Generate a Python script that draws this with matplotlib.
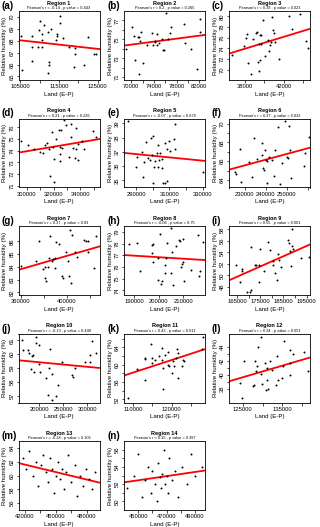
import numpy as np
import matplotlib.pyplot as plt

plt.rcParams['font.family'] = ['Liberation Sans', 'DejaVu Sans']

# ---- data (Land E-P vs relative humidity) ----
land_a = [105100, 105400, 108000, 107900, 107900, 109500, 109800, 110100, 110500, 110500, 110600, 111000,
          112100, 112500, 112500, 112100, 113000, 114200, 114500, 114500, 115200, 115200, 116000, 117500,
          119200, 119200, 119000, 121500, 122500, 124100, 124700]
rh_a = [68.42, 65.5, 68.37, 67.5, 66.3, 67.45, 68.9, 69.7, 68.55, 68.1, 67.5, 69.3,
        68.75, 66.25, 66.0, 65.25, 69.0, 68.1, 68.55, 68.4, 70.1, 69.5, 68.25, 67.5,
        67.4, 66.9, 65.8, 66.0, 68.3, 66.85, 66.9]

land_b = [69100, 70200, 70400, 70600, 71100, 71300, 71600, 71700, 72000, 71400, 72700, 73600, 73800, 74100,
          74200, 74500, 74600, 74800, 75400, 75500, 75800, 76100, 76500, 76800, 77000, 79300, 79400, 80500,
          81500, 82100, 82200]
rh_b = [74.0, 76.3, 75.4, 72.8, 75.2, 75.2, 74.8, 75.8, 72.5, 71.3, 74.4, 75.7, 74.4, 74.8,
        74.7, 75.6, 74.4, 74.6, 75.0, 73.9, 73.9, 77.8, 75.0, 75.7, 76.3, 76.6, 74.6, 74.0,
        71.9, 75.8, 77.2]

land_c = [36700, 37900, 38100, 38200, 38330, 38700, 38900, 39200, 39300, 39400, 39500, 39550, 39550, 39650,
          39500, 39700, 39900, 40100, 40400, 40500, 40600, 40700, 40800, 40900, 41000, 41100, 41500, 42500,
          42900, 43700, 44300, 44500]
rh_c = [72.7, 74.5, 75.9, 76.7, 71.3, 69.2, 75.7, 76.9, 77.1, 71.5, 69.8, 71.9, 76.6, 76.6,
        74.9, 74.8, 79.4, 72.5, 75.5, 73.5, 74.7, 75.2, 79.9, 77.5, 76.8, 75.2, 72.0, 80.0,
        77.6, 80.5, 75.3, 74.1]

land_d = [295500, 301200, 305000, 310000, 311750, 313250, 315000, 316250, 317000, 318750, 319250, 320000,
          320000, 321750, 323750, 324500, 325000, 325000, 325500, 326250, 328000, 329500, 331250, 333000,
          333000, 334500, 336250, 337000, 337000, 338000, 338250, 341250, 342500, 349500, 351800]
rh_d = [74.85, 74.45, 74.15, 73.85, 73.8, 74.45, 74.65, 74.15, 71.8, 75.6, 74.35, 73.3,
        71.3, 75.0, 75.75, 74.35, 73.7, 73.1, 75.75, 74.2, 76.6, 76.2, 73.5, 76.3,
        75.15, 74.25, 73.4, 75.9, 74.15, 74.55, 73.2, 74.8, 74.1, 75.65, 75.2]

land_e = [285400, 290000, 290800, 293400, 294400, 295000, 296000, 297400, 298400, 299000, 300000, 299400,
          300000, 301000, 301400, 302400, 303400, 303400, 304000, 304400, 305400, 305800, 306400, 307400,
          307400, 308400, 308800, 309800, 310400, 313000, 313400, 313400, 330000]
rh_e = [39.2, 35.94, 36.65, 37.0, 35.24, 36.3, 37.7, 36.6, 36.4, 37.99, 38.1, 36.8,
        34.85, 35.94, 36.35, 36.9, 35.94, 37.5, 36.4, 36.9, 35.88, 36.5, 34.85, 34.85,
        37.6, 34.95, 37.2, 37.8, 37.05, 37.9, 37.2, 38.95, 35.6]

land_f = [225400, 225900, 227800, 228500, 232200, 233300, 234600, 235700, 238000, 238300, 238500, 239100,
          239600, 240100, 240700, 240400, 241700, 242800, 243900, 244400, 246000, 246700, 247500, 249100,
          249900, 250400, 251200, 251500, 251800, 258100, 258600, 260600]
rh_f = [64.85, 64.6, 67.3, 63.78, 65.95, 64.35, 68.45, 66.2, 66.65, 67.9, 65.3, 65.1,
        67.15, 66.1, 66.05, 63.7, 66.4, 66.1, 64.4, 67.15, 69.65, 63.6, 65.8, 70.3,
        66.4, 66.3, 69.75, 67.15, 64.2, 65.5, 66.9, 68.55]

land_g = [360000, 373300, 376200, 379700, 380600, 380600, 381700, 383500, 384600, 385500, 387000, 388400,
          389900, 389900, 390700, 393600, 396200, 397100, 399400, 401400, 402300, 402900, 404300, 403800,
          407200, 408700, 415100, 416800, 418800, 418000, 424000, 425500]
rh_g = [84.07, 84.47, 86.05, 83.8, 83.99, 83.1, 82.93, 83.99, 84.67, 86.4, 84.5, 84.6,
        84.67, 83.88, 85.97, 85.8, 83.3, 83.15, 85.13, 84.5, 83.3, 86.9, 86.5, 82.75,
        85.2, 84.8, 86.1, 86.0, 86.05, 85.2, 83.9, 86.45]

land_h = [187800, 191200, 192300, 197100, 197500, 197100, 197500, 199500, 200500, 199500, 200900, 201400,
          202500, 202500, 202900, 203400, 204800, 204900, 205200, 205600, 206900, 208200, 208600, 209000,
          209300, 209700, 210000, 210300, 213000, 216100, 216500, 216800, 217900]
rh_h = [78.0, 78.07, 75.65, 77.9, 78.0, 77.2, 76.45, 76.73, 78.8, 74.85, 74.55, 74.8,
        76.2, 75.47, 76.8, 78.07, 79.3, 75.47, 77.3, 74.43, 77.75, 78.27, 78.2, 76.0,
        76.25, 76.4, 78.4, 74.8, 75.7, 78.77, 75.2, 75.64, 78.13]

land_i = [164400, 166100, 167100, 167100, 169200, 170600, 171000, 171200, 172700, 173100, 174300, 174300,
          174900, 176700, 178200, 179300, 180300, 180700, 181300, 182400, 182800, 183100, 183800, 186900,
          187400, 187700, 188500, 188800, 188800, 189100, 192800, 196200]
rh_i = [51.76, 48.8, 51.2, 50.8, 47.2, 47.2, 47.4, 55.0, 51.8, 51.9, 51.9, 48.9,
        54.6, 50.8, 55.8, 54.4, 51.9, 52.5, 50.4, 49.2, 53.8, 52.7, 51.4, 56.2,
        55.6, 54.3, 51.6, 58.1, 55.2, 54.6, 53.0, 53.2]

land_j = [165000, 167000, 177000, 178400, 182500, 185900, 187200, 188600, 192700, 194000, 199500, 198800,
          202200, 213100, 217900, 221300, 223300, 226000, 226700, 234800, 238200, 247100, 268900, 270200,
          273600, 296000, 304800, 306100, 309500, 317700]
rh_j = [61.0, 60.3, 60.3, 60.1, 58.9, 59.9, 59.95, 58.7, 60.8, 61.25, 60.7, 59.3,
        58.7, 58.25, 57.07, 59.0, 60.35, 56.7, 58.55, 57.0, 57.8, 59.45, 58.5, 58.35,
        59.0, 59.45, 59.45, 59.95, 60.95, 60.1]

land_k = [108700, 110900, 113000, 113000, 113000, 114600, 114900, 115000, 115600, 116700, 117400, 117500,
          117800, 117800, 118300, 119100, 119100, 119300, 120000, 120400, 120700, 121100, 121300, 121600,
          121700, 122800, 123000, 123200, 127800, 128300]
rh_k = [52.25, 59.1, 56.6, 61.3, 61.5, 64.8, 60.4, 61.5, 61.1, 62.1, 63.9, 61.1,
        59.2, 54.5, 62.2, 62.9, 60.0, 59.8, 58.1, 60.8, 59.8, 61.5, 63.7, 57.0,
        62.6, 59.6, 61.0, 60.8, 63.7, 66.4]

land_l = [124200, 124800, 125400, 127600, 127900, 128100, 128400, 128700, 128900, 129500, 129500, 129800,
          130600, 130800, 131100, 131100, 131300, 131900, 132400, 133300, 133600, 134000, 134800, 135200,
          135500, 136900, 136900, 136900, 137600, 140600, 141600]
rh_l = [38.8, 36.7, 41.9, 38.35, 38.5, 42.0, 40.5, 41.2, 43.9, 45.4, 40.1, 38.6,
        41.7, 37.8, 39.3, 41.0, 37.9, 41.9, 40.7, 38.5, 42.7, 39.3, 39.5, 41.2,
        44.8, 43.5, 41.6, 40.0, 42.9, 43.2, 40.5]

land_m = [418000, 421000, 424000, 428000, 431000, 433000, 436000, 438000, 440000, 442000, 444000, 446000,
          448000, 450000, 452000, 454000, 456000, 458000, 460000, 462000, 465000, 468000, 470000, 473000,
          476000, 479000, 482000, 485000, 488000]
rh_m = [62.5, 61.0, 63.5, 60.0, 62.0, 58.5, 61.5, 63.0, 60.5, 59.0, 62.5, 61.0,
        57.5, 60.0, 62.0, 59.5, 61.0, 58.0, 60.5, 63.0, 59.0, 61.5, 57.0, 60.0,
        58.5, 61.0, 59.5, 58.0, 60.5]

land_n = [442000, 447000, 450000, 453000, 455000, 457000, 459000, 460000, 462000, 463000, 464000, 465000,
          466000, 467000, 468000, 469000, 470000, 471000, 472000, 474000, 476000, 478000, 481000, 484000,
          487000, 490000, 495000]
rh_n = [51.5, 53.0, 55.5, 50.5, 52.5, 54.0, 51.0, 53.5, 52.0, 50.0, 54.5, 52.8,
        51.5, 53.2, 56.0, 52.0, 53.0, 51.0, 55.0, 52.5, 53.5, 50.5, 54.0, 52.0,
        55.5, 53.0, 54.0]

pearson_r = ['-0.14', '0.2', '0.39', '0.21', '-0.07', '0.37', '0.37', '-0.06', '0.55', '-0.13', '0.43',
             '0.34', '-0.28', '0.15']
p_values = ['0.443', '0.265', '0.023', '0.226', '0.679', '0.032', '0.03', '0.75', '0.001', '0.449', '0.011',
            '0.051', '0.105', '0.397']
panel_tags = ['(a)', '(b)', '(c)', '(d)', '(e)', '(f)', '(g)', '(h)', '(i)', '(j)', '(k)', '(l)', '(m)', '(n)']

lands = [land_a, land_b, land_c, land_d, land_e, land_f, land_g, land_h, land_i, land_j, land_k, land_l,
         land_m, land_n]
rhs = [rh_a, rh_b, rh_c, rh_d, rh_e, rh_f, rh_g, rh_h, rh_i, rh_j, rh_k, rh_l, rh_m, rh_n]

# axis limits, ticks and which tick labels are printed
xlims = [(104500, 125500), (68700, 83000), (36400, 44700), (293700, 354500), (282800, 331400),
         (222600, 260900), (358000, 428400), (185800, 218800), (161500, 196500), (157000, 325200),
         (107600, 128700), (121500, 142000), (414000, 492000), (440000, 497000)]
xticks = [[105000, 110000, 115000, 120000, 125000],
          [70000, 72000, 74000, 76000, 78000, 80000, 82000],
          [38000, 40000, 42000, 44000],
          [300000, 310000, 320000, 330000, 340000, 350000],
          [290000, 300000, 310000, 320000, 330000],
          [230000, 240000, 250000, 260000],
          [360000, 380000, 400000, 420000],
          [190000, 200000, 210000],
          [165000, 170000, 175000, 180000, 185000, 190000, 195000],
          [200000, 250000, 300000],
          [110000, 115000, 120000, 125000],
          [125000, 130000, 135000, 140000],
          [420000, 435000, 450000, 465000, 480000],
          [450000, 460000, 470000, 480000, 490000]]
xshow = [[1, 0, 1, 0, 1], [1, 0, 1, 0, 1, 0, 1], [1, 0, 1, 0], [1, 0, 1, 0, 1, 0], [1, 0, 1, 0, 1],
         [1, 1, 1, 0], [1, 0, 1, 0], [1, 1, 1], [1, 0, 1, 0, 1, 0, 1], [1, 1, 1], [1, 0, 1, 0],
         [1, 0, 1, 0], [1, 0, 1, 0, 1], [1, 0, 1, 0, 1]]
ylims = [(64.7, 70.5), (70.7, 78.0), (68.1, 81.0), (70.85, 76.75), (34.5, 39.35), (63.2, 70.54),
         (81.8, 87.2), (73.6, 79.5), (46.6, 58.6), (56.5, 61.5), (51.3, 67.2), (36.0, 45.9),
         (55.0, 65.0), (49.0, 57.0)]
yticks = [[65, 66, 67, 68, 69, 70], [71, 72, 73, 74, 75, 76, 77], [70, 72, 74, 76, 78, 80],
          [71, 72, 73, 74, 75, 76], [35, 36, 37, 38, 39], [64, 65, 66, 67, 68, 69, 70],
          [82, 83, 84, 85, 86], [74, 75, 76, 77, 78, 79], [48, 50, 52, 54, 56, 58], [57, 58, 59, 60, 61],
          [52, 54, 56, 58, 60, 62, 64, 66], [38, 39, 40, 41, 42, 43, 44], [56, 58, 60, 62, 64],
          [50, 51, 52, 53, 54, 55, 56]]
yshow = [[1] * 6, [1, 0, 1, 0, 1, 0, 1], [1] * 6, [1] * 6, [1] * 5, [1, 0, 1, 0, 1, 0, 1], [1] * 5, [1] * 6,
         [1] * 6, [1] * 5, [1, 0, 1, 0, 1, 0, 1, 0], [1, 0, 1, 0, 1, 0, 1], [1] * 5, [1, 0, 1, 0, 1, 0, 1]]

W, H = 320, 527
fig = plt.figure(figsize=(W / 100, H / 100), dpi=100)

col_left = [18.5, 124, 229]
row_top = [11, 118.5, 226, 333.5, 441]
ax_w, ax_h = 81, 69

for k in range(14):
    r, c = divmod(k, 3)
    left, top = col_left[c], row_top[r]
    ax = fig.add_axes([left / W, 1 - (top + ax_h) / H, ax_w / W, ax_h / H])

    x = np.array(lands[k], dtype=float)
    y = np.array(rhs[k], dtype=float)
    ax.scatter(x, y, s=2, c='black', lw=0, zorder=3)

    slope, icpt = np.polyfit(x, y, 1)
    xx = np.array(xlims[k])
    ax.plot(xx, slope * xx + icpt, color='red', lw=1.3, zorder=2)

    ax.set_xlim(xlims[k])
    ax.set_ylim(ylims[k])
    ax.set_xticks(xticks[k])
    ax.set_xticklabels([str(t) if s else '' for t, s in zip(xticks[k], xshow[k])])
    ax.set_yticks(yticks[k])
    ax.set_yticklabels([str(t) if s else '' for t, s in zip(yticks[k], yshow[k])],
                       rotation=90, va='center')
    ax.tick_params(labelsize=4.2, length=1.8, width=0.5, pad=1.2, direction='out')
    for sp in ax.spines.values():
        sp.set_linewidth(0.6)

    ax.set_xlabel('Land (E-P)', fontsize=4.4, labelpad=2)
    ax.set_ylabel('Relative humidity (%)', fontsize=4.4, labelpad=1.5)
    ax.text(0.5, 1.075, 'Region %d' % (k + 1), transform=ax.transAxes, ha='center', va='bottom',
            fontsize=4.0, fontweight='bold')
    ax.text(0.5, 1.01, "Pearson's r = %s , p value = %s" % (pearson_r[k], p_values[k]),
            transform=ax.transAxes, ha='center', va='bottom', fontsize=2.8)
    fig.text((left - 17) / W, 1 - (top - 5) / H, panel_tags[k], ha='left', va='center',
             fontsize=7, fontweight='bold')

fig.savefig('out.png', dpi=100)
